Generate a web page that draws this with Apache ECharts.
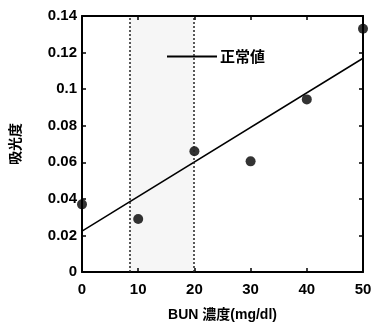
<!DOCTYPE html>
<html>
<head>
<meta charset="utf-8">
<script src="https://cdn.jsdelivr.net/npm/echarts@6/dist/echarts.min.js"></script>
<style>
  html, body { margin: 0; padding: 0; background: #fff; }
  #chart { width: 375px; height: 322px; }
</style>
</head>
<body>
<div id="chart"></div>
<script>
// BUN 濃度 (mg/dl) と 吸光度
const bunConc = [0, 10, 20, 30, 40, 50]
const absorbance = [0.037, 0.029, 0.066, 0.0605, 0.0944, 0.133]
// 回帰直線の両端
const fitX = [0, 50]
const fitY = [0.0224, 0.1169]
// 正常値の範囲
const normalRange = [8.5, 19.8]
const xTicks = [0, 10, 20, 30, 40, 50]
const yTicks = [0, 0.02, 0.04, 0.06, 0.08, 0.1, 0.12, 0.14]

const font = '"Liberation Sans", Arial, "Noto Sans CJK JP", sans-serif'
const cjk = '"Noto Sans CJK JP", "Liberation Sans", sans-serif'

const chart = echarts.init(document.getElementById('chart'))

const baseAxis = {
  axisLine: { show: true, onZero: false, lineStyle: { color: '#000', width: 2 } },
  axisTick: { show: true, inside: true, length: 4, lineStyle: { color: '#000', width: 1.5 } },
  splitLine: { show: false },
}

chart.setOption({
  animation: false,
  backgroundColor: '#fff',
  grid: { left: 82, right: 12, top: 16, bottom: 50, containLabel: false, outerBoundsMode: 'none' },
  legend: {
    data: ['正常値'],
    left: 162,
    top: 44,
    icon: 'rect',
    itemWidth: 50,
    itemHeight: 2,
    itemGap: 4,
    textStyle: { fontFamily: cjk, fontSize: 15, fontWeight: 'bold', color: '#000', padding: [0, 0, 0, -2] },
  },
  xAxis: [
    {
      ...baseAxis,
      type: 'value',
      min: xTicks[0],
      max: xTicks[xTicks.length - 1],
      interval: 10,
      name: 'BUN 濃度(mg/dl)',
      nameLocation: 'middle',
      nameGap: 36,
      nameTextStyle: { fontFamily: font, fontSize: 14, fontWeight: 'bold', color: '#000' },
      axisLabel: { fontFamily: font, fontSize: 15, fontWeight: 'bold', color: '#000', margin: 10 },
    },
    {
      ...baseAxis,
      type: 'value',
      position: 'top',
      min: xTicks[0],
      max: xTicks[xTicks.length - 1],
      interval: 10,
      axisLabel: { show: false },
    },
  ],
  yAxis: [
    {
      ...baseAxis,
      type: 'value',
      min: yTicks[0],
      max: yTicks[yTicks.length - 1],
      interval: 0.02,
      name: '吸光度',
      nameLocation: 'middle',
      nameGap: 60,
      nameRotate: 90,
      nameTextStyle: { fontFamily: cjk, fontSize: 14, fontWeight: 'bold', color: '#000' },
      axisLabel: {
        fontFamily: font, fontSize: 15, fontWeight: 'bold', color: '#000', margin: 5,
        formatter: v => String(+v.toFixed(2)),
      },
    },
    {
      ...baseAxis,
      type: 'value',
      position: 'right',
      min: yTicks[0],
      max: yTicks[yTicks.length - 1],
      interval: 0.02,
      axisLabel: { show: false },
    },
  ],
  series: [
    {
      name: '正常値',
      type: 'line',
      data: fitX.map((x, i) => [x, fitY[i]]),
      showSymbol: false,
      lineStyle: { color: '#000', width: 1.5 },
      itemStyle: { color: '#000' },
      markArea: {
        silent: true,
        itemStyle: { color: 'rgba(0,0,0,0.035)' },
        data: [[{ xAxis: normalRange[0] }, { xAxis: normalRange[1] }]],
      },
      markLine: {
        silent: true,
        symbol: 'none',
        label: { show: false },
        lineStyle: { color: '#222', type: [2, 2], width: 1.5 },
        data: normalRange.map(x => ({ xAxis: x })),
      },
      z: 3,
    },
    {
      name: 'data',
      type: 'scatter',
      data: bunConc.map((x, i) => [x, absorbance[i]]),
      symbol: 'circle',
      symbolSize: 10,
      clip: false,
      itemStyle: { color: '#000' },
      z: 4,
    },
  ],
})
</script>
</body>
</html>
